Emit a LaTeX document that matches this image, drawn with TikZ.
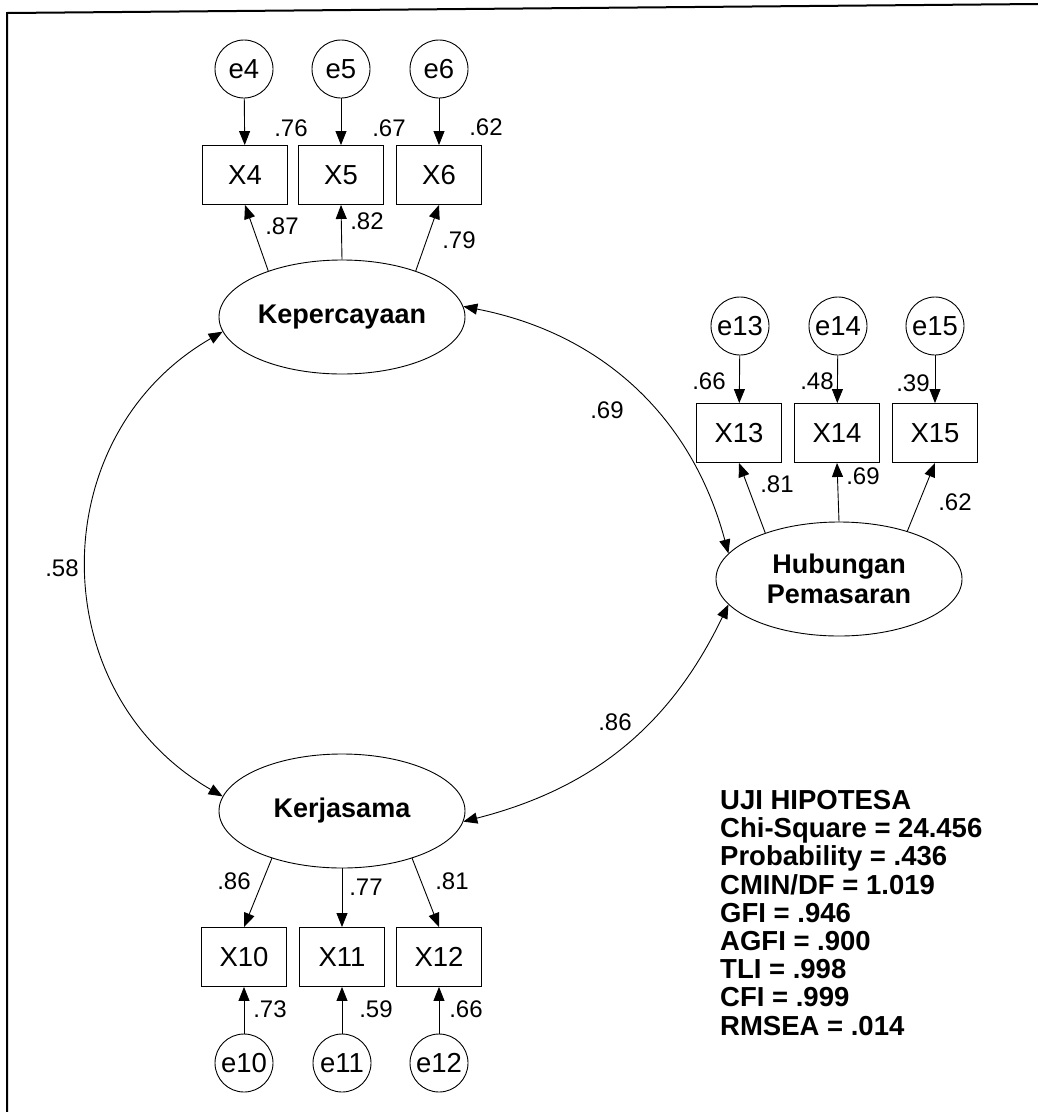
\documentclass[tikz,border=0pt]{standalone}
\usepackage{fontspec}
\setmainfont{Liberation Sans}
\usetikzlibrary{shapes.geometric,arrows.meta}
\begin{document}
\begin{tikzpicture}[x=1pt,y=-1pt,
  err/.style={circle,draw,line width=0.9pt,minimum size=58pt,inner sep=0pt,font=\fontsize{27.5}{29}\selectfont},
  obs/.style={rectangle,draw,line width=0.9pt,minimum width=85pt,minimum height=59pt,inner sep=0pt,font=\fontsize{27.5}{29}\selectfont},
  lat/.style={ellipse,draw,line width=0.9pt,minimum width=246pt,minimum height=114pt,inner sep=0pt,font=\bfseries\fontsize{27}{30}\selectfont,align=center},
  num/.style={inner sep=0pt,font=\fontsize{24}{24}\selectfont},
  arr/.style={-{Triangle[length=14pt,width=11pt]},line width=0.9pt},
  cov/.style={{Triangle[length=14pt,width=11pt]}-{Triangle[length=14pt,width=11pt]},line width=0.9pt}]
\useasboundingbox (0,0) rectangle (1038,1112);
% frame
\coordinate (f1) at (7,1112);
\coordinate (f2) at (7,13);
\coordinate (f3) at (1038,4);
\draw[line width=2pt] (f1) -- (f2) -- (f3);

% Kepercayaan block
\node[err] (e4) at (244,69) {e4};
\node[err] (e5) at (341,69) {e5};
\node[err] (e6) at (439,69) {e6};
\node[obs] (x4) at (245,175) {X4};
\node[obs] (x5) at (341,175) {X5};
\node[obs] (x6) at (439,175) {X6};
\node[lat] (kep) at (342,317) {Kepercayaan};
\draw[arr] (e4) -- (x4);
\draw[arr] (e5) -- (x5);
\draw[arr] (e6) -- (x6);
\draw[arr] (kep.148) -- (x4.south);
\draw[arr] (kep.north) -- (x5.south);
\draw[arr] (kep.32) -- (x6.south);
\node[num] (l76) at (291,128) {.76};
\node[num] (l67) at (389,128) {.67};
\node[num] (l62) at (486,127) {.62};
\node[num] (l87) at (282,226) {.87};
\node[num] (l82) at (367,221) {.82};
\node[num] (l79) at (459,240) {.79};

% Hubungan Pemasaran block
\node[err] (e13) at (740,326) {e13};
\node[err] (e14) at (838,326) {e14};
\node[err] (e15) at (935,326) {e15};
\node[obs] (x13) at (739,433) {X13};
\node[obs] (x14) at (837,433) {X14};
\node[obs] (x15) at (935,433) {X15};
\node[lat] (hub) at (839,579) {Hubungan\\Pemasaran};
\draw[arr] (e13) -- (x13);
\draw[arr] (e14) -- (x14);
\draw[arr] (e15) -- (x15);
\draw[arr] (hub.148) -- (x13.south);
\draw[arr] (hub.north) -- (x14.south);
\draw[arr] (hub.35) -- (x15.south);
\node[num] (l66a) at (709,381) {.66};
\node[num] (l48) at (817,381) {.48};
\node[num] (l39) at (913,383) {.39};
\node[num] (l81a) at (777,484) {.81};
\node[num] (l69a) at (863,476) {.69};
\node[num] (l62a) at (955,502) {.62};

% Kerjasama block
\node[lat] (ker) at (342,811) {Kerjasama};
\node[obs] (x10) at (244,957) {X10};
\node[obs] (x11) at (342,957) {X11};
\node[obs] (x12) at (439,957) {X12};
\node[err] (e10) at (244,1063) {e10};
\node[err] (e11) at (342,1063) {e11};
\node[err] (e12) at (439,1063) {e12};
\draw[arr] (ker.214) -- (x10.north);
\draw[arr] (ker.south) -- (x11.north);
\draw[arr] (ker.326) -- (x12.north);
\draw[arr] (e10) -- (x10);
\draw[arr] (e11) -- (x11);
\draw[arr] (e12) -- (x12);
\node[num] (l86a) at (234,881) {.86};
\node[num] (l77) at (366,887) {.77};
\node[num] (l81b) at (452,881) {.81};
\node[num] (l73) at (270,1009) {.73};
\node[num] (l59) at (376,1009) {.59};
\node[num] (l66b) at (466,1009) {.66};

% covariances
\draw[cov] (kep.187) to[bend right=60, looseness=1.15] (ker.173);
\draw[cov] (kep.5) to[bend left=32] (hub.167);
\draw[cov] (hub.193) to[bend left=25] (ker.355);
\node[num] (c58) at (62,568) {.58};
\node[num] (c69) at (607,410) {.69};
\node[num] (c86) at (615,722) {.86};

% fit statistics
\node[anchor=north west,inner sep=0pt,align=left,font=\bfseries\fontsize{27.5}{28.2}\selectfont] (stats) at (720,790)
 {UJI HIPOTESA\\Chi-Square = 24.456\\Probability = .436\\CMIN/DF = 1.019\\GFI = .946\\AGFI = .900\\TLI = .998\\CFI = .999\\RMSEA = .014};
\end{tikzpicture}
\end{document}
